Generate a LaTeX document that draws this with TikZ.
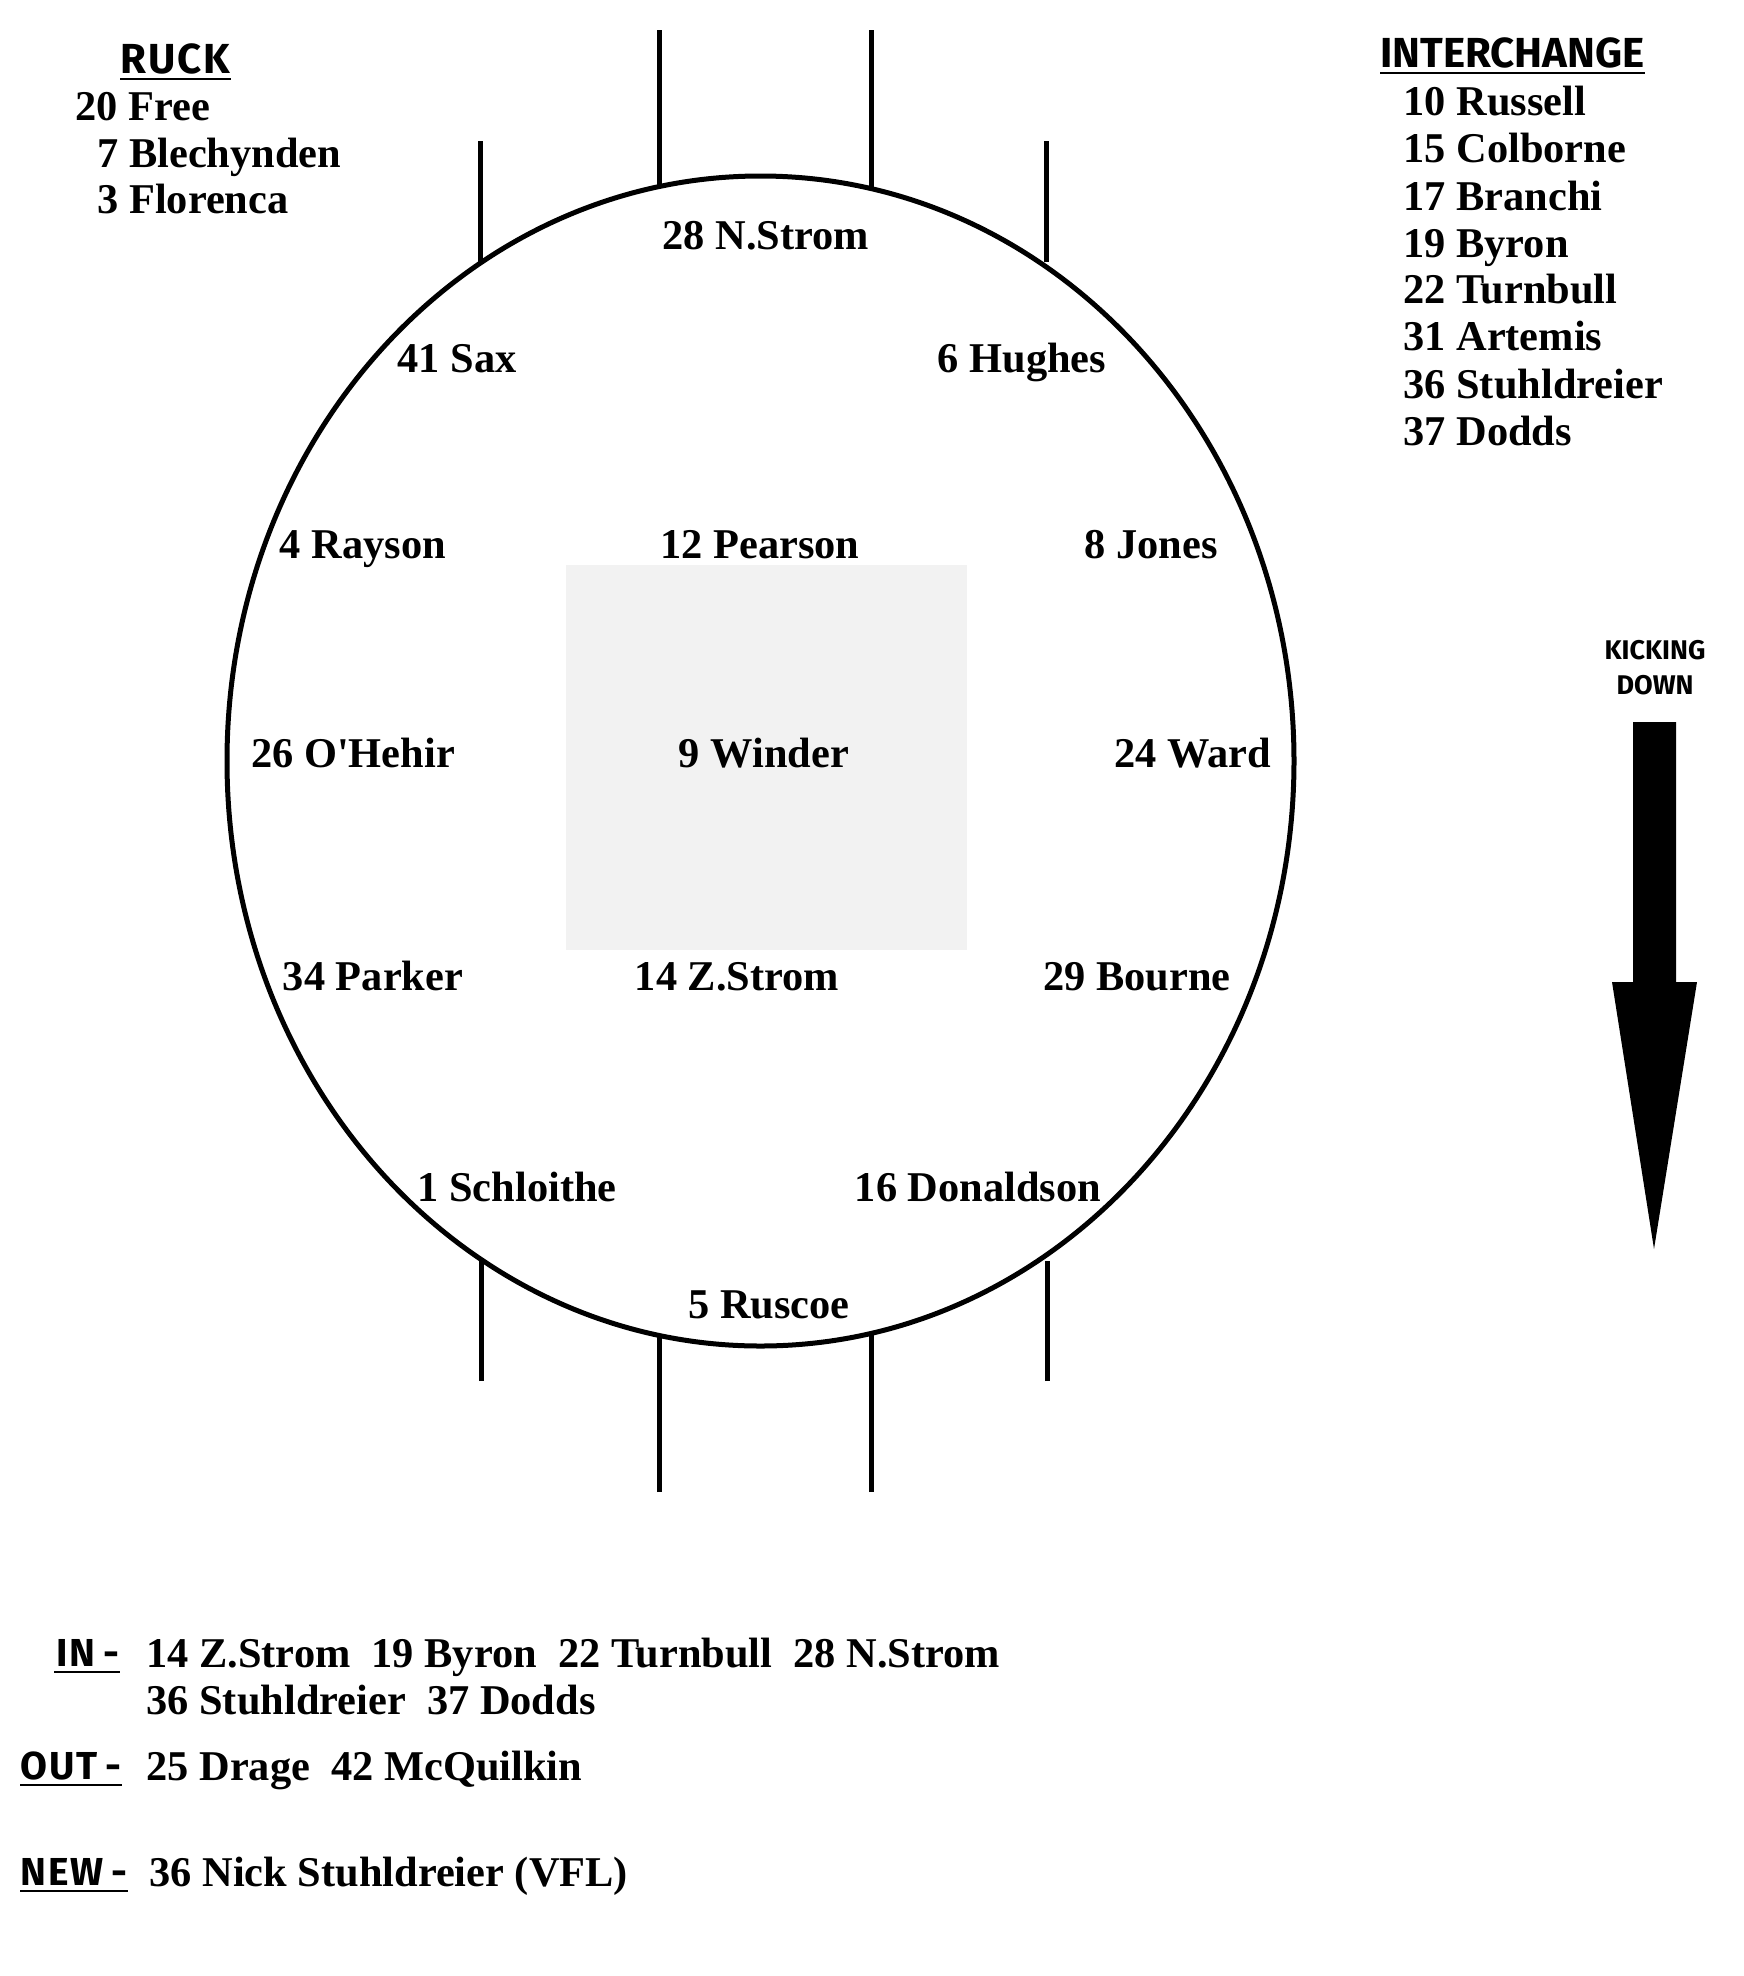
\documentclass[tikz,border=0pt]{standalone}
\usepackage{fontspec}
\setmainfont{Liberation Serif}[Ligatures=TeXOff]
\newfontfamily\headfont{Fira Sans}
\newfontfamily\tagfont{Fira Sans}[LetterSpace=5]
\definecolor{squaregrey}{HTML}{F2F2F2}
\begin{document}
\begin{tikzpicture}[x=0.5pt,y=-0.5pt,
  lbl/.style={font=\fontsize{21.2}{25}\selectfont\bfseries, anchor=base, inner sep=0pt},
  lst/.style={lbl, anchor=base west},
  head/.style={font=\headfont\fontsize{21}{25}\selectfont\bfseries, anchor=base west, inner sep=0pt},
  kick/.style={font=\headfont\fontsize{13.5}{16}\selectfont\bfseries, anchor=base, inner sep=0pt},
  tag/.style={font=\tagfont\fontsize{19.5}{22}\selectfont\bfseries, anchor=base east, inner sep=0pt},
  uline/.style={line width=1pt},
  post/.style={line width=2.5pt},
  fieldline/.style={line width=2.5pt}]
\useasboundingbox (0,0) rectangle (1744,1976);
\fill[white] (0,0) rectangle (1744,1976);

% centre square
\fill[squaregrey] (566,565) rectangle (967,950);

% field
\draw[fieldline] (760.5,761) ellipse [x radius=533.5, y radius=585];

% posts
\coordinate (gtl) at (659,30);   \coordinate (gtlb) at (659,187);
\coordinate (gtr) at (871,30);   \coordinate (gtrb) at (871,187);
\coordinate (btl) at (480,141);  \coordinate (btlb) at (480,264);
\coordinate (btr) at (1046,141); \coordinate (btrb) at (1046,262);
\coordinate (gbl) at (659,1492); \coordinate (gblb) at (659,1335);
\coordinate (gbr) at (871,1492); \coordinate (gbrb) at (871,1335);
\coordinate (bbl) at (481,1381); \coordinate (bblb) at (481,1258);
\coordinate (bbr) at (1047,1381);\coordinate (bbrb) at (1047,1261);
\draw[post] (gtl) -- (gtlb);
\draw[post] (gtr) -- (gtrb);
\draw[post] (btl) -- (btlb);
\draw[post] (btr) -- (btrb);
\draw[post] (gbl) -- (gblb);
\draw[post] (gbr) -- (gbrb);
\draw[post] (bbl) -- (bblb);
\draw[post] (bbr) -- (bbrb);

% players on field
\node[lbl] (nstrom) at (766,249) {28 N.Strom};
\node[lbl] (sax) at (457,372) {41 Sax};
\node[lbl] (hughes) at (1022,372) {6 Hughes};
\node[lbl] (rayson) at (363,558) {4 Rayson};
\node[lbl] (pearson) at (760,558) {12 Pearson};
\node[lbl] (jones) at (1151,558) {8 Jones};
\node[lbl] (ohehir) at (353,767) {26 O'Hehir};
\node[lbl] (winder) at (764,767) {9 Winder};
\node[lbl] (ward) at (1193,767) {24 Ward};
\node[lbl] (parker) at (373,990) {34 Parker};
\node[lbl] (zstrom) at (737,990) {14 Z.Strom};
\node[lbl] (bourne) at (1137,990) {29 Bourne};
\node[lbl] (schloithe) at (517,1201) {1 Schloithe};
\node[lbl] (donaldson) at (978,1201) {16 Donaldson};
\node[lbl] (ruscoe) at (769,1318) {5 Ruscoe};

% ruck
\node[head, font=\tagfont\fontsize{21}{25}\selectfont\bfseries] (ruck) at (120,73) {RUCK};
\draw[uline] ([yshift=-3pt]ruck.base west) -- ([yshift=-3pt]ruck.base east);
\node[lst] (r1) at (75,120) {20 Free};
\node[lst] (r2) at (97,167) {7 Blechynden};
\node[lst] (r3) at (97,213) {3 Florenca};

% interchange
\node[head] (inter) at (1380,67) {INTERCHANGE};
\draw[uline] ([yshift=-3pt]inter.base west) -- ([yshift=-3pt]inter.base east);
\node[lst] (i1) at (1403,115) {10 Russell};
\node[lst] (i2) at (1403,162) {15 Colborne};
\node[lst] (i3) at (1403,210) {17 Branchi};
\node[lst] (i4) at (1403,257) {19 Byron};
\node[lst] (i5) at (1403,303) {22 Turnbull};
\node[lst] (i6) at (1403,350) {31 Artemis};
\node[lst] (i7) at (1403,398) {36 Stuhldreier};
\node[lst] (i8) at (1403,445) {37 Dodds};

% kicking direction
\node[kick] (kick1) at (1655,659) {KICKING};
\node[kick] (kick2) at (1655,694) {DOWN};
\coordinate (a1) at (1633,722);
\coordinate (a2) at (1676,722);
\coordinate (a3) at (1676,982);
\coordinate (a4) at (1697,982);
\coordinate (a5) at (1654,1249);
\coordinate (a6) at (1612,982);
\coordinate (a7) at (1633,982);
\fill[black] (a1) -- (a2) -- (a3) -- (a4) -- (a5) -- (a6) -- (a7) -- cycle;

% changes
\node[tag] (intag) at (120,1666) {IN\hspace{4pt}-};
\draw[uline] ([yshift=-3pt,xshift=-1pt]intag.base west) -- ([yshift=-3pt]intag.base east);
\node[lst] (in1) at (146,1667) {14 Z.Strom\ \ 19 Byron\ \ 22 Turnbull\ \ 28 N.Strom};
\node[lst] (in2) at (146,1714) {36 Stuhldreier\ \ 37 Dodds};
\node[tag] (outtag) at (122,1779) {OUT\hspace{4pt}-};
\draw[uline] ([yshift=-3pt]outtag.base west) -- ([yshift=-3pt]outtag.base east);
\node[lst] (out1) at (146,1780) {25 Drage\ \ 42 McQuilkin};
\node[tag] (newtag) at (128,1885) {NEW\hspace{4pt}-};
\draw[uline] ([yshift=-3pt]newtag.base west) -- ([yshift=-3pt]newtag.base east);
\node[lst] (new1) at (149,1886) {36 Nick Stuhldreier (VFL)};
\end{tikzpicture}
\end{document}
